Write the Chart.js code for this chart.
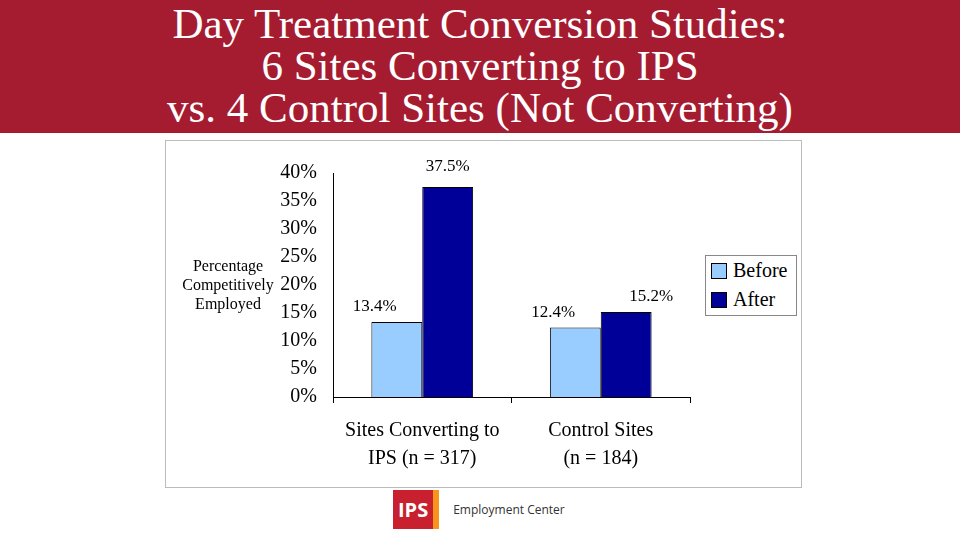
<!DOCTYPE html>
<html><head><meta charset="utf-8">
<script src="https://cdn.jsdelivr.net/npm/chart.js@4"></script>
<style>
body{margin:0;width:960px;height:540px;background:#fff;position:relative;overflow:hidden;font-family:"Liberation Serif","Times New Roman",serif}
#hdr{position:absolute;left:0;top:0;width:960px;height:133px;background:#A51C30;color:#fff;text-align:center;font-size:43px;line-height:42px;padding-top:3px;box-sizing:border-box}
#box{position:absolute;left:165px;top:140px;width:637px;height:348px;border:1px solid #bbb;box-sizing:border-box}
#c{position:absolute;left:165px;top:140px}
#ytitle{position:absolute;left:172px;top:256px;width:112px;text-align:center;font-size:16px;line-height:19px}
#legend{position:absolute;left:705px;top:255px;width:92px;height:61px;border:1px solid #888;background:#fff;box-sizing:border-box;font-size:20px}
.li{position:absolute;left:5px;display:flex;align-items:center}
.sw{width:14px;height:14px;border:1px solid #000;margin-right:6px}
#logo{position:absolute;left:393px;top:490px;display:flex;align-items:center;font-family:"Open Sans",sans-serif}
</style></head><body>
<div id="hdr">Day Treatment Conversion Studies:<br>6 Sites Converting to IPS<br>vs. 4 Control Sites (Not Converting)</div>
<div id="box"></div>
<canvas id="c" width="637" height="348"></canvas>
<div id="ytitle">Percentage<br>Competitively<br>Employed</div>
<div id="legend">
<div class="li" style="top:3px"><div class="sw" style="background:#99CCFF"></div>Before</div>
<div class="li" style="top:32px"><div class="sw" style="background:#000099"></div>After</div>
</div>
<div id="logo"><div style="background:#C8202F;color:#fff;font-weight:bold;font-size:20px;padding:6px 5px;border-right:6px solid #F7941D">IPS</div><div style="margin-left:14px;font-size:12px;color:#333">Employment Center</div></div>
<script>
const categories=[["Sites Converting to","IPS (n = 317)"],["Control Sites","(n = 184)"]];
const before=[13.4,12.4];
const after=[37.5,15.2];
const yTicks=[0,5,10,15,20,25,30,35,40];
const F='"Liberation Serif","Times New Roman",serif';
const labelPlugin={id:'lbl',afterDatasetsDraw(ch){const ctx=ch.ctx;ctx.save();ctx.font='17px '+F;ctx.fillStyle='#000';ctx.textAlign='center';ctx.textBaseline='bottom';
ch.data.datasets.forEach((ds,i)=>{ch.getDatasetMeta(i).data.forEach((b,j)=>{ctx.fillText(ds.data[j].toFixed(1)+'%',b.x+(i===0?-22:0)+(i===1&&j===1?25:0),b.y-(i===1&&j===0?12:7));});});ctx.restore();}};
new Chart(document.getElementById('c'),{type:'bar',
data:{labels:categories,datasets:[
{label:'Before',data:before,backgroundColor:'#99CCFF',borderColor:'#000',borderWidth:1,categoryPercentage:0.57,barPercentage:1},
{label:'After',data:after,backgroundColor:'#000099',borderColor:'#000',borderWidth:1,categoryPercentage:0.57,barPercentage:1}]},
options:{responsive:false,animation:false,layout:{padding:{top:33,right:112,left:0,bottom:0}},
plugins:{legend:{display:false},tooltip:{enabled:false}},
scales:{
x:{grid:{display:true,drawOnChartArea:false,color:'#000',tickLength:6,offset:true},border:{color:'#000'},ticks:{color:'#000',padding:14,font:{family:F,size:20,lineHeight:1.4}},afterFit(s){s.height=91;}},
y:{min:0,max:40,grid:{display:false},border:{color:'#000'},afterBuildTicks(s){s.ticks=yTicks.map(v=>({value:v}));},ticks:{color:'#000',font:{family:F,size:20},callback:v=>v+'%',padding:8},afterFit(s){s.width=168;}}}},
plugins:[labelPlugin]});
</script></body></html>
